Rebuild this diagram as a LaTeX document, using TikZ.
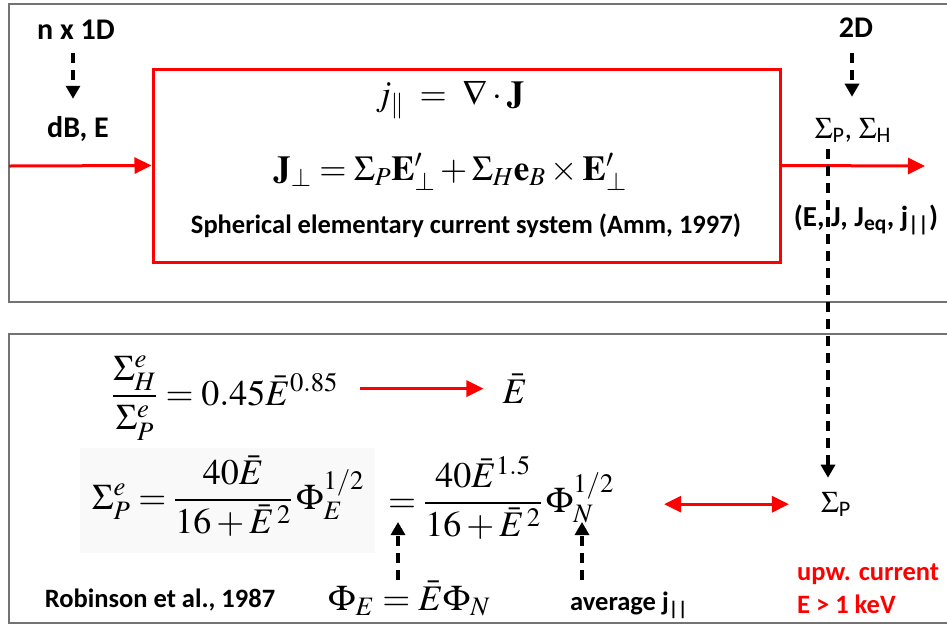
\documentclass[tikz,border=0pt]{standalone}
\usepackage{amsmath}
\usepackage{mathptmx}
\usepackage[no-math]{fontspec}
\setmainfont{Carlito}
\usetikzlibrary{arrows.meta}
\begin{document}
\begin{tikzpicture}[x=1pt,y=-1pt,
 panel/.style={draw=black!55, line width=1.6pt},
 redbox/.style={draw=red, line width=3pt, inner sep=0pt},
 rarrow/.style={red, line width=3pt, -{Triangle[length=17pt,width=16pt]}},
 rdarrow/.style={red, line width=3pt, {Triangle[length=17pt,width=16pt]}-{Triangle[length=17pt,width=16pt]}},
 darrow/.style={black, line width=3.2pt, dash pattern=on 10pt off 7pt, -{Triangle[length=13pt,width=14pt]}},
 lbl/.style={inner sep=0pt, font=\fontsize{30}{36}\selectfont\bfseries},
 sig/.style={inner sep=0pt, font=\fontsize{30}{34}\selectfont},
 txt/.style={inner sep=0pt, font=\fontsize{26.5}{32}\selectfont\bfseries},
 eqtop/.style={inner sep=0pt, font=\fontsize{35}{40}\selectfont},
 eqlow/.style={inner sep=0pt, font=\fontsize{36}{42}\selectfont},
]
\useasboundingbox (0,0) rectangle (947,625);
% panels
\draw[panel] (9,4) rectangle (960,302);
\draw[panel] (9,334) rectangle (960,623);
\fill[black!2.5] (80,448) rectangle (375,553);

% top panel
\node[redbox, minimum width=627pt, minimum height=193pt] (box) at (466.5,165.5) {};
\coordinate (inL) at (9,166);
\coordinate (outR) at (925,166);
\draw[rarrow] (inL) -- (box.west);
\draw[rarrow] (box.east) -- (outR);

\node[eqtop, anchor=base] (eqa) at (450,105) {$j_{\|} \;=\; \nabla\cdot\mathbf{J}$};
\node[eqtop, anchor=base] (eqb) at (450,180) {$\mathbf{J}_{\perp} = \Sigma_P\mathbf{E}'_{\perp} + \Sigma_H\mathbf{e}_B\times\mathbf{E}'_{\perp}$};
\node[txt, anchor=base] (sph) at (466,233) {Spherical elementary current system (Amm, 1997)};

\node[lbl, anchor=base] (n1d) at (76,39) {n x 1D};
\node[lbl, anchor=base] (dbe) at (78,137) {dB, E};
\coordinate (a1) at ([xshift=-3pt]n1d.south);
\draw[darrow, shorten <=14pt, shorten >=17pt] (a1) -- (a1 |- dbe.north);

\node[lbl, anchor=base] (twoD) at (856,37) {2D};
\node[sig, anchor=base] (sigPH) at (853,138) {$\Sigma$\textsubscript{P}, $\Sigma$\textsubscript{H}};
\coordinate (a2) at ([xshift=-4pt]twoD.south);
\draw[darrow, shorten <=16pt, shorten >=21pt] (a2) -- (a2 |- sigPH.north);

\node[lbl, anchor=base, font=\fontsize{29}{34}\selectfont\bfseries] (ej) at (866,226) {(E, J, J\textsubscript{eq}, j\textsubscript{||})};

% bottom panel
\node[eqlow, anchor=base west] (eqc) at (112,405) {$\dfrac{\Sigma^e_H}{\Sigma^e_P} = 0.45\bar{E}^{0.85}$};
\node[eqlow, anchor=base] (ebar) at (515,403) {$\bar{E}$};
\draw[rarrow, shorten <=22pt, shorten >=19pt] (eqc.east |- ebar.west) -- (ebar.west);

\node[eqlow, anchor=base west] (eqd) at (92,509) {$\Sigma^e_P = \dfrac{40\bar{E}}{16+\bar{E}^{\,2}}\,\Phi_E^{1/2}$};
\node[eqlow, anchor=base west] (eqe) at (388,512) {$= \dfrac{40\bar{E}^{1.5}}{16+\bar{E}^{\,2}}\,\Phi_N^{1/2}$};
\node[eqlow, anchor=base west] (eqf) at (328,610) {$\Phi_E = \bar{E}\Phi_N$};
\node[txt, anchor=base west] (avg) at (570,610) {average j\textsubscript{||}};
\node[txt, anchor=base] (rob) at (160,607) {Robinson et al., 1987};
\node[sig, anchor=base] (sigP) at (836,512) {$\Sigma$\textsubscript{P}};
\node[txt, red, anchor=base west] (upw) at (797,580) {upw. current};
\node[txt, red, anchor=base west] (ekev) at (797,613) {E > 1 keV};

\draw[rdarrow, shorten <=50pt, shorten >=32pt] (eqe.east |- sigP.west) -- (sigP.west);

\coordinate (u1) at (398,580);
\coordinate (u1t) at (398,522);
\draw[darrow] (u1) -- (u1t);
\coordinate (u2) at (582,580);
\coordinate (u2t) at (582,522);
\draw[darrow] (u2) -- (u2t);

% long dashed connector
\coordinate (dtop) at (828,149);
\draw[darrow, shorten >=14pt] (dtop) -- (dtop |- sigP.north);
\end{tikzpicture}
\end{document}
